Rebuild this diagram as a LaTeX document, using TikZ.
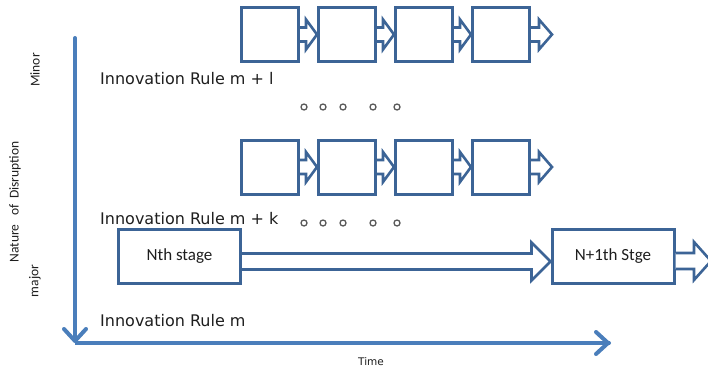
\documentclass[tikz,border=0pt]{standalone}
\usepackage{fontspec}
\setmainfont{DejaVu Sans}
\newfontfamily\calfont{Carlito}
\usetikzlibrary{arrows.meta,calc}
\definecolor{boxblue}{RGB}{60,100,150}
\definecolor{axisblue}{RGB}{74,126,187}
\definecolor{txt}{RGB}{30,30,30}
\definecolor{dotgray}{RGB}{90,90,90}

% hollow block arrow from #1 to #2: shaft half-height #3, head half-height #4, head length #5
\newcommand\blockarrow[5]{%
  \filldraw[blockarrow] let \p1=(#1), \p2=(#2) in
    (\x1,\y1+#3) -- (\x2-#5,\y1+#3) -- (\x2-#5,\y1+#4) -- (\x2,\y1)
    -- (\x2-#5,\y1-#4) -- (\x2-#5,\y1-#3) -- (\x1,\y1-#3);}

\begin{document}
\begin{tikzpicture}[x=1pt,y=-1pt,
  stagebox/.style={draw=boxblue,line width=3pt,fill=white,inner sep=0pt},
  smallbox/.style={stagebox,minimum width=57pt,minimum height=54pt},
  widebox/.style={stagebox,minimum width=122pt,minimum height=54pt,
    font=\calfont\fontsize{17}{20}\selectfont,text=txt},
  blockarrow/.style={draw=boxblue,line width=2.6pt,fill=white,line join=miter},
  axis/.style={draw=axisblue,line width=4pt,line cap=round,
    -{Straight Barb[length=12pt,width=22pt,round]}},
  rulelabel/.style={anchor=base west,inner sep=0pt,
    font=\fontsize{16}{19}\selectfont,text=txt},
  sidelabel/.style={rotate=90,inner sep=0pt,
    font=\calfont\fontsize{13.5}{16}\selectfont,text=txt},
  dot/.style={circle,draw=dotgray,line width=1.3pt,minimum size=6pt,inner sep=0pt},
]
\useasboundingbox (0,0) rectangle (708,372);

% axes
\coordinate (ytop) at (75,38);
\coordinate (origin) at (75,343);
\coordinate (xend) at (610,343);
\draw[axis] (ytop) -- (origin);
\draw[draw=axisblue,line width=4pt] (origin) -- (xend);
\draw[axis] ([xshift=-1pt]xend) -- (xend);

% axis labels
\node[sidelabel] (minor) at (35,70) {Minor};
\node[sidelabel] (major) at (35,281) {major};
\node[sidelabel] (nature) at (15,202) {Nature\hspace{6pt} of\hspace{2pt} Disruption};
\node[inner sep=0pt,font=\fontsize{10.5}{12}\selectfont,text=txt] (time) at (371,362) {Time};

% rule labels
\node[rulelabel] (rulel) at (100,84) {Innovation Rule m + l};
\node[rulelabel] (rulek) at (100,224) {Innovation Rule m + k};
\node[rulelabel] (rulem) at (100,326) {Innovation Rule m};

% first chain of stages
\foreach \i/\x in {1/270,2/347,3/424,4/501}
  \node[smallbox] (a\i) at (\x,34.5) {};
\coordinate (aend) at (552,34.5);
\blockarrow{a1.east}{a2.west}{7pt}{15pt}{11pt}
\blockarrow{a2.east}{a3.west}{7pt}{15pt}{11pt}
\blockarrow{a3.east}{a4.west}{7pt}{15pt}{11pt}
\blockarrow{a4.east}{aend}{7pt}{15pt}{13pt}

% second chain of stages
\foreach \i/\x in {1/270,2/347,3/424,4/501}
  \node[smallbox] (b\i) at (\x,167) {};
\coordinate (bend) at (552,167);
\blockarrow{b1.east}{b2.west}{7pt}{15pt}{11pt}
\blockarrow{b2.east}{b3.west}{7pt}{15pt}{11pt}
\blockarrow{b3.east}{b4.west}{7pt}{15pt}{11pt}
\blockarrow{b4.east}{bend}{7pt}{15pt}{13pt}

% ellipsis marks
\foreach \i/\x in {1/304,2/323,3/343,4/373,5/397} {
  \node[dot] (p\i) at (\x,107) {};
  \node[dot] (q\i) at (\x,223) {};
}

% major stages
\node[widebox] (n1) at (179.5,256.5) {Nth stage};
\node[widebox] (n2) at (613,256) {N+1th Stge};
\coordinate (nend) at (711,261.5);
\blockarrow{[yshift=-5pt]n1.east}{[yshift=-5pt]n2.west}{8pt}{19pt}{19pt}
\blockarrow{[yshift=-5pt]n2.east}{nend}{8pt}{19pt}{17pt}
\end{tikzpicture}
\end{document}
